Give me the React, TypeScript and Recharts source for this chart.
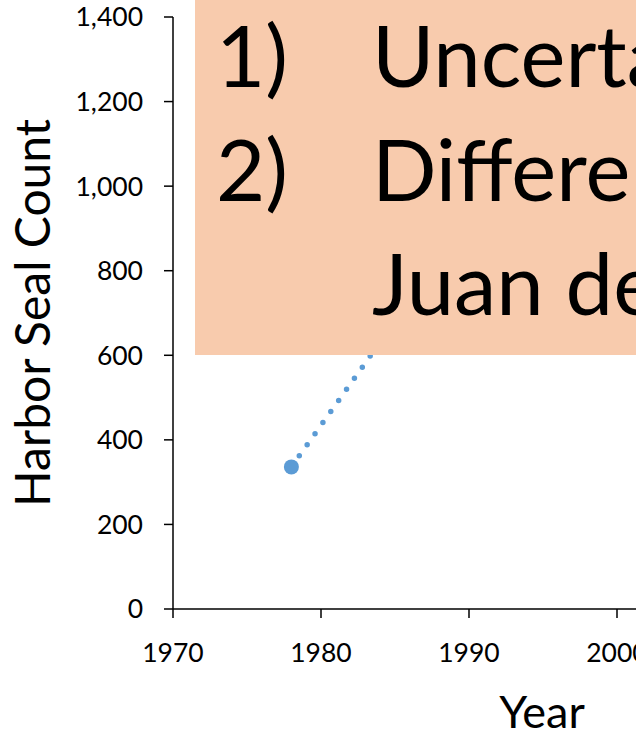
import React from 'react';
import { LineChart, Line, XAxis, YAxis } from 'recharts';

// Survey years and harbor seal counts
const years = [1978, 1986];
const sealCounts = [336, 730];

// Axis ticks
const yearTicks = [1970, 1980, 1990, 2000, 2010];
const countTicks = [0, 200, 400, 600, 800, 1000, 1200, 1400];

// Note box lines (number + text)
const noteNumbers = ['1)', '2)', ''];
const noteLines = ['Uncertainty', 'Differences', 'Juan de Fuca'];

const data = years.map((year, i) => ({ year, count: sealCounts[i] }));

const FONT = 'Lato, "Open Sans", sans-serif';
const SERIES = '#5B9BD5';
const NOTE_FILL = '#F8CBAD';
const INK = '#000000';

const fmt = (v: number) => v.toLocaleString('en-US');

const YTitle = (props: any) => {
  const vb = props.viewBox || { x: 0, y: 17, width: 173, height: 592 };
  const x = vb.x + 50;
  const y = vb.y + vb.height / 2;
  return (
    <text
      x={x}
      y={y}
      transform={`rotate(-90 ${x} ${y})`}
      textAnchor="middle"
      fontFamily={FONT}
      fontSize={48}
      fill={INK}
    >
      Harbor Seal Count
    </text>
  );
};

const XTitle = (props: any) => {
  const vb = props.viewBox || { x: 173, y: 609, width: 592, height: 127 };
  return (
    <text
      x={vb.x + 369}
      y={vb.y + 119}
      textAnchor="middle"
      fontFamily={FONT}
      fontSize={45}
      fill={INK}
    >
      Year
    </text>
  );
};

export default function App() {
  const tickStyle = { fontFamily: FONT, fontSize: 26.5, fill: INK };
  const baselines = [87, 201, 315];
  return (
    <div
      style={{
        position: 'absolute',
        left: 0,
        top: 0,
        width: 636,
        height: 736,
        overflow: 'hidden',
        background: '#ffffff',
      }}
    >
      <LineChart
        width={800}
        height={736}
        data={data}
        margin={{ top: 17, right: 35, bottom: 0, left: 0 }}
      >
        <XAxis
          dataKey="year"
          type="number"
          domain={[1970, 2010]}
          ticks={yearTicks}
          interval={0}
          height={127}
          tickSize={9}
          tickMargin={25}
          tick={tickStyle}
          axisLine={{ stroke: INK, strokeWidth: 1.5 }}
          tickLine={{ stroke: INK, strokeWidth: 1.5 }}
          label={{ content: XTitle }}
        />
        <YAxis
          type="number"
          domain={[0, 1400]}
          ticks={countTicks}
          interval={0}
          width={173}
          tickSize={9}
          tickMargin={21}
          tick={tickStyle}
          tickFormatter={fmt}
          axisLine={{ stroke: INK, strokeWidth: 1.5 }}
          tickLine={{ stroke: INK, strokeWidth: 1.5 }}
          label={{ content: YTitle }}
        />
        <Line
          dataKey="count"
          type="linear"
          stroke={SERIES}
          strokeWidth={5.5}
          strokeDasharray="0 13.6"
          strokeLinecap="round"
          dot={{ r: 7.5, fill: SERIES, stroke: 'none' }}
          activeDot={false}
          isAnimationActive={false}
        />
      </LineChart>
      <svg
        width={636}
        height={736}
        style={{ position: 'absolute', left: 0, top: 0, pointerEvents: 'none' }}
      >
        <rect x={195} y={0} width={441} height={355} fill={NOTE_FILL} />
        {noteLines.map((line, i) => (
          <g key={i} fontFamily={FONT} fontSize={85} fill={INK}>
            {noteNumbers[i] && (
              <text x={216} y={baselines[i]}>
                {noteNumbers[i]}
              </text>
            )}
            <text x={372} y={baselines[i]}>
              {line}
            </text>
          </g>
        ))}
      </svg>
    </div>
  );
}
